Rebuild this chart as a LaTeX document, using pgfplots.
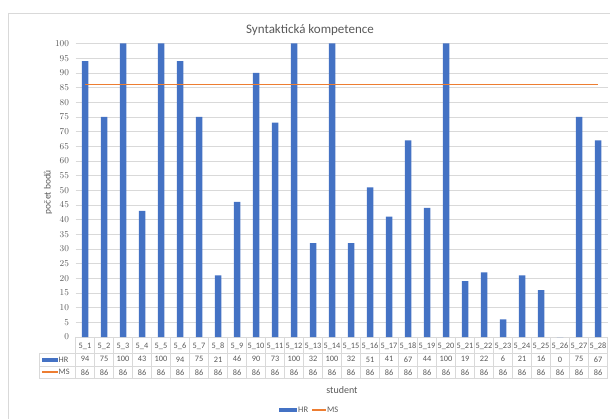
\documentclass[border=0pt]{standalone}
\usepackage{pgfplots}
\pgfplotsset{compat=1.18}
\usepackage{fontspec}
\setmainfont{Carlito}
\definecolor{barblue}{HTML}{4472C4}
\definecolor{lineorange}{HTML}{ED7D31}
\definecolor{gridgray}{HTML}{D9D9D9}
\definecolor{txtgray}{HTML}{595959}
\definecolor{framegray}{HTML}{D9D9D9}
\begin{document}
\begin{tikzpicture}
\begin{scope}[x=1pt,y=1pt]
\useasboundingbox (0,0) rectangle (610,-419);
\draw[framegray, line width=0.6pt] (8,-13) -- (620,-13);
\draw[framegray, line width=0.6pt] (8,-13) -- (8,-425);
\node[font=\fontsize{13}{15}\selectfont, text=txtgray] at (310,-30) {Syntaktická kompetence};
\end{scope}
\begin{axis}[
  at={(75.5pt,-337pt)}, anchor=south west,
  scale only axis, width=532pt, height=293.5pt,
  xmin=-0.5, xmax=27.5, ymin=0, ymax=100,
  ytick={0,5,...,100},
  xtick={0,...,27},
  xticklabels={
   {5\_1\\94\\86},{5\_2\\75\\86},{5\_3\\100\\86},{5\_4\\43\\86},{5\_5\\100\\86},
   {5\_6\\94\\86},{5\_7\\75\\86},{5\_8\\21\\86},{5\_9\\46\\86},{5\_10\\90\\86},
   {5\_11\\73\\86},{5\_12\\100\\86},{5\_13\\32\\86},{5\_14\\100\\86},{5\_15\\32\\86},
   {5\_16\\51\\86},{5\_17\\41\\86},{5\_18\\67\\86},{5\_19\\44\\86},{5\_20\\100\\86},
   {5\_21\\19\\86},{5\_22\\22\\86},{5\_23\\6\\86},{5\_24\\21\\86},{5\_25\\16\\86},
   {5\_26\\0\\86},{5\_27\\75\\86},{5\_28\\67\\86}},
  xticklabel style={align=center, font=\fontsize{8.3}{13.4}\selectfont, text=txtgray, inner sep=0pt, yshift=-6pt},
  yticklabel style={font=\fontsize{9}{10}\selectfont, text=txtgray, xshift=-3pt},
  major tick length=0pt,
  ymajorgrids, grid style={draw=gridgray, line width=0.6pt},
  axis line style={draw=none},
  clip=false,
]
\addplot[ybar, bar width=6.5pt, fill=barblue, draw=none] coordinates {
(0,94) (1,75) (2,100) (3,43) (4,100) (5,94) (6,75) (7,21) (8,46) (9,90)
(10,73) (11,100) (12,32) (13,100) (14,32) (15,51) (16,41) (17,67) (18,44) (19,100)
(20,19) (21,22) (22,6) (23,21) (24,16) (25,0) (26,75) (27,67)};
\addplot[lineorange, line width=1.5pt, mark=none] coordinates {
(0,86) (1,86) (2,86) (3,86) (4,86) (5,86) (6,86) (7,86) (8,86) (9,86)
(10,86) (11,86) (12,86) (13,86) (14,86) (15,86) (16,86) (17,86) (18,86) (19,86)
(20,86) (21,86) (22,86) (23,86) (24,86) (25,86) (26,86) (27,86)};
\end{axis}
\begin{scope}[x=1pt,y=1pt]
% data table grid
\foreach \k in {0,...,28} {\draw[gridgray, line width=0.5pt] ({75.5+19*\k},-337) -- ({75.5+19*\k},-378);}
\draw[gridgray, line width=0.5pt] (39,-353) -- (607.5,-353);
\draw[gridgray, line width=0.5pt] (39,-366) -- (607.5,-366);
\draw[gridgray, line width=0.5pt] (39,-378) -- (607.5,-378);
\draw[gridgray, line width=0.5pt] (39,-353) -- (39,-378);
\fill[barblue] (42,-357.5) rectangle (58,-361.5);
\node[anchor=west, inner sep=0pt, font=\fontsize{8.3}{10}\selectfont, text=txtgray] at (58.5,-359.5) {HR};
\draw[lineorange, line width=1.3pt] (42,-372) -- (58,-372);
\node[anchor=west, inner sep=0pt, font=\fontsize{8.3}{10}\selectfont, text=txtgray] at (58.5,-372) {MS};
\node[rotate=90, font=\fontsize{9.5}{11}\selectfont, text=txtgray] at (48,-192) {počet bodů};
\node[font=\fontsize{10}{12}\selectfont, text=txtgray] at (342,-390) {student};
% legend
\fill[barblue] (279,-408) rectangle (297,-412);
\node[anchor=west, inner sep=0pt, font=\fontsize{8.5}{10}\selectfont, text=txtgray] at (298,-410) {HR};
\draw[lineorange, line width=1.3pt] (312,-410) -- (326,-410);
\node[anchor=west, inner sep=0pt, font=\fontsize{8.5}{10}\selectfont, text=txtgray] at (327,-410) {MS};
\end{scope}
\end{tikzpicture}
\end{document}
